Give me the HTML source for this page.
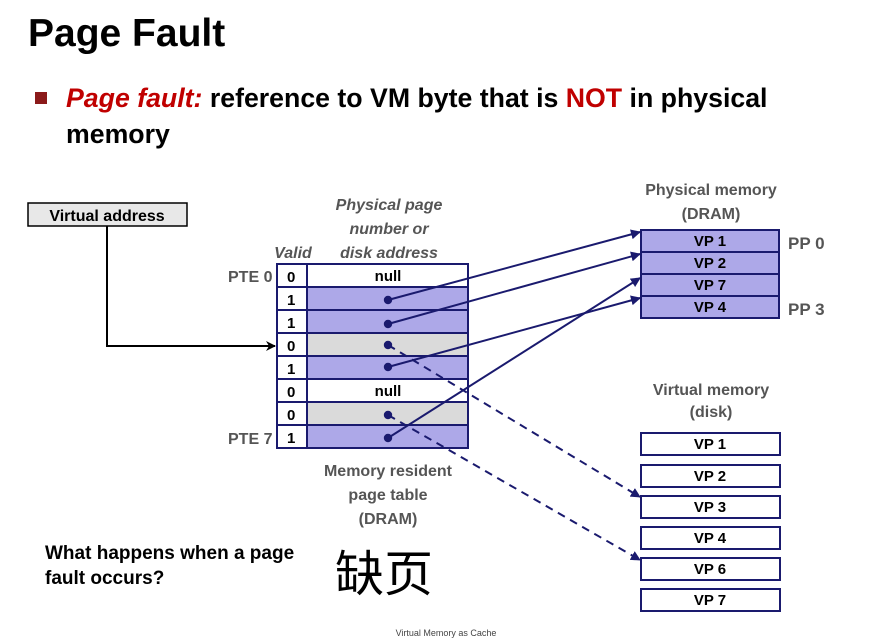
<!DOCTYPE html>
<html><head><meta charset="utf-8"><style>
body{margin:0;width:884px;height:639px;background:#fff;overflow:hidden;font-family:"Liberation Sans",sans-serif;position:relative}
.t{position:absolute;white-space:nowrap}
</style></head><body>
<div class="t" style="left:28px;top:12px;font-size:39px;font-weight:bold;color:#000">Page Fault</div>
<div class="t" style="left:35px;top:92px;width:12px;height:12px;background:#8b1a1a"></div>
<div class="t" style="left:66px;top:80px;font-size:26.7px;font-weight:bold;line-height:36px"><i style="color:#c00000">Page fault:</i> reference to VM byte that is <span style="color:#c00000">NOT</span> in physical<br>memory</div>
<svg width="884" height="639" style="position:absolute;left:0;top:0" font-family="Liberation Sans, sans-serif" font-weight="bold">
<defs><marker id="a" markerWidth="10" markerHeight="10" refX="9" refY="5" orient="auto" markerUnits="userSpaceOnUse"><path d="M0,0L10,5L0,10z" fill="#1a1a6e"/></marker>
<marker id="b" markerWidth="10" markerHeight="10" refX="9" refY="5" orient="auto" markerUnits="userSpaceOnUse"><path d="M0,0L10,5L0,10L3,5z" fill="#000"/></marker></defs>
<rect x="28" y="203" width="159" height="23" fill="#e8e8e8" stroke="#000" stroke-width="1.5"/>
<text x="107" y="221" font-size="16" text-anchor="middle">Virtual address</text>
<polyline points="107,226 107,346 275,346" fill="none" stroke="#000" stroke-width="2" marker-end="url(#b)"/>
<g font-size="16" fill="#555" text-anchor="middle" font-style="italic">
<text x="389" y="210">Physical page</text><text x="389" y="234">number or</text><text x="389" y="258">disk address</text>
<text x="293" y="258">Valid</text></g>
<g font-size="16" fill="#555"><text x="228" y="282">PTE 0</text><text x="228" y="444">PTE 7</text></g>
<g stroke="#1a1a6e" stroke-width="2">
<rect x="277" y="264" width="191" height="23" fill="#fff"/>
<rect x="277" y="287" width="191" height="23" fill="#ada8e8"/>
<rect x="277" y="310" width="191" height="23" fill="#ada8e8"/>
<rect x="277" y="333" width="191" height="23" fill="#dadada"/>
<rect x="277" y="356" width="191" height="23" fill="#ada8e8"/>
<rect x="277" y="379" width="191" height="23" fill="#fff"/>
<rect x="277" y="402" width="191" height="23" fill="#dadada"/>
<rect x="277" y="425" width="191" height="23" fill="#ada8e8"/>
</g>
<rect x="278" y="265" width="28" height="182" fill="#fff"/>
<g font-size="15" fill="#000"><text x="287" y="282">0</text><text x="287" y="305">1</text><text x="287" y="328">1</text><text x="287" y="351">0</text><text x="287" y="374">1</text><text x="287" y="397">0</text><text x="287" y="420">0</text><text x="287" y="443">1</text></g>
<g stroke="#1a1a6e" stroke-width="2" fill="none"><rect x="277" y="264" width="30" height="184"/>
<line x1="277" y1="287" x2="307" y2="287"/><line x1="277" y1="310" x2="307" y2="310"/><line x1="277" y1="333" x2="307" y2="333"/><line x1="277" y1="356" x2="307" y2="356"/><line x1="277" y1="379" x2="307" y2="379"/><line x1="277" y1="402" x2="307" y2="402"/><line x1="277" y1="425" x2="307" y2="425"/></g>
<g font-size="15" text-anchor="middle"><text x="388" y="281">null</text><text x="388" y="396">null</text></g>
<g fill="#1a1a6e"><circle cx="388" cy="300" r="4.2"/><circle cx="388" cy="324" r="4.2"/><circle cx="388" cy="345" r="4.2"/><circle cx="388" cy="367" r="4.2"/><circle cx="388" cy="415" r="4.2"/><circle cx="388" cy="438" r="4.2"/></g>
<g stroke="#1a1a6e" stroke-width="2" fill="none" marker-end="url(#a)">
<line x1="388" y1="300" x2="640" y2="232"/><line x1="388" y1="324" x2="640" y2="254"/><line x1="388" y1="367" x2="640" y2="298"/><line x1="388" y1="438" x2="640" y2="278"/>
<line x1="388" y1="345" x2="640" y2="497" stroke-dasharray="8,6"/><line x1="388" y1="415" x2="640" y2="560" stroke-dasharray="8,6"/></g>
<g font-size="16" fill="#555" text-anchor="middle"><text x="711" y="195">Physical memory</text><text x="711" y="219">(DRAM)</text>
<text x="711" y="395">Virtual memory</text><text x="711" y="417">(disk)</text>
<text x="388" y="476">Memory resident</text><text x="388" y="500">page table</text><text x="388" y="524">(DRAM)</text></g>
<g font-size="17" fill="#555"><text x="788" y="249">PP 0</text><text x="788" y="315">PP 3</text></g>
<g stroke="#1a1a6e" stroke-width="2" fill="#ada8e8">
<rect x="641" y="230" width="138" height="22"/><rect x="641" y="252" width="138" height="22"/><rect x="641" y="274" width="138" height="22"/><rect x="641" y="296" width="138" height="22"/></g>
<g font-size="15" text-anchor="middle"><text x="710" y="246">VP 1</text><text x="710" y="268">VP 2</text><text x="710" y="290">VP 7</text><text x="710" y="312">VP 4</text></g>
<g stroke="#1a1a6e" stroke-width="2" fill="#fff">
<rect x="641" y="433" width="139" height="22"/><rect x="641" y="465" width="139" height="22"/><rect x="641" y="496" width="139" height="22"/><rect x="641" y="527" width="139" height="22"/><rect x="641" y="558" width="139" height="22"/><rect x="641" y="589" width="139" height="22"/></g>
<g font-size="15" text-anchor="middle"><text x="710" y="449">VP 1</text><text x="710" y="481">VP 2</text><text x="710" y="512">VP 3</text><text x="710" y="543">VP 4</text><text x="710" y="574">VP 6</text><text x="710" y="605">VP 7</text></g>
<g font-size="19"><text x="45" y="559">What happens when a page</text><text x="45" y="584">fault occurs?</text></g>
<text x="446" y="636" font-size="9" font-weight="normal" fill="#444" text-anchor="middle">Virtual Memory as Cache</text>
</svg>
<div class="t" style="left:335px;top:535px;font-size:49px;font-family:'Noto Sans CJK SC',sans-serif;color:#000">缺页</div>
</body></html>
